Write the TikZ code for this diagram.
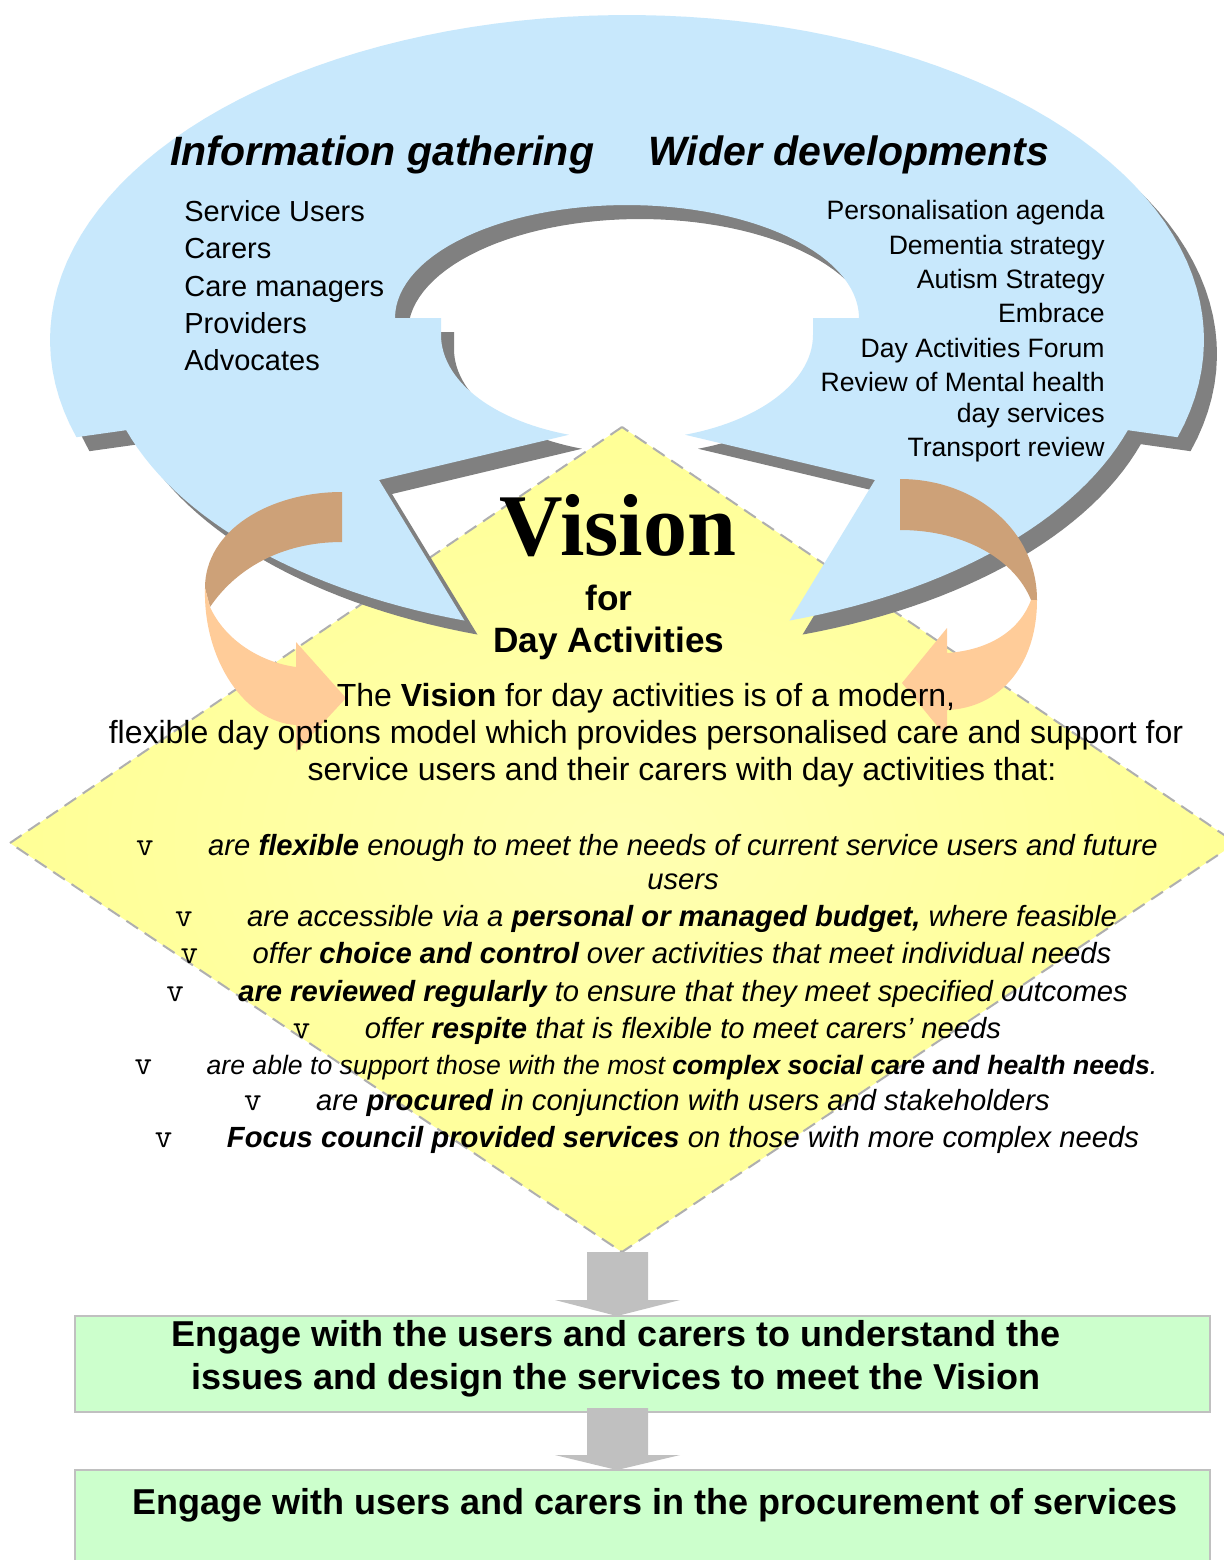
\documentclass[tikz,border=0pt]{standalone}
\usepackage{fontspec}
\setmainfont{Liberation Sans}
\newfontfamily\visionfont{Liberation Serif}
\newfontfamily\bulfont{Latin Modern Mono}
\definecolor{ringblue}{RGB}{200,232,252}
\definecolor{shadowgray}{RGB}{128,128,128}
\definecolor{arrowtan}{RGB}{205,161,120}
\definecolor{arrowpeach}{RGB}{255,204,153}
\definecolor{yelin}{RGB}{255,255,178}
\definecolor{yelout}{RGB}{255,255,150}
\definecolor{boxgreen}{RGB}{204,255,204}
\definecolor{silvergray}{RGB}{192,192,192}
\definecolor{dashgray}{RGB}{175,175,175}
\newcommand{\bulv}{\makebox[36pt][l]{\fontsize{17}{17}\bulfont\upshape v}}
\begin{document}
\begin{tikzpicture}[x=0.5pt,y=-0.5pt,
  hdr/.style={font=\fontsize{20.5}{24}\selectfont\bfseries\itshape, inner sep=0pt, anchor=base west},
  lefttxt/.style={font=\fontsize{14.5}{17}\selectfont, inner sep=0pt, anchor=base west},
  righttxt/.style={font=\fontsize{13.3}{16}\selectfont, inner sep=0pt, anchor=base east},
  partxt/.style={font=\fontsize{16}{19}\selectfont, inner sep=0pt, anchor=base},
  bultxt/.style={font=\fontsize{14.6}{17}\selectfont\itshape, inner sep=0pt, anchor=base},
  smallbultxt/.style={font=\fontsize{13.3}{16}\selectfont\itshape, inner sep=0pt, anchor=base},
  titletxt/.style={font=\fontsize{17.6}{20}\selectfont\bfseries, inner sep=0pt, anchor=base},
  boxtxt/.style={font=\fontsize{18}{21}\selectfont\bfseries, inner sep=0pt, anchor=base},
  greenbox/.style={fill=boxgreen, draw=silvergray, line width=1.3pt},
  blockarrow/.style={fill=silvergray},
  diamondedge/.style={draw=dashgray, line width=1pt, dash pattern=on 7pt off 4pt},
]
\useasboundingbox (0,0) rectangle (1224,1560);
\clip (0,0) rectangle (1224,1560);
\fill[white] (0,0) rectangle (1224,1560);

% ---------- yellow diamond ----------
\coordinate (dtop) at (622,427);
\coordinate (dleft) at (10,843);
\coordinate (dbot) at (622,1252);
\coordinate (dright) at (1236,843);
\shade[inner color=yelin, outer color=yelout] (dtop) -- (dleft) -- (dbot) -- (dright) -- cycle;
\path[diamondedge] (dtop) -- (dleft) -- (dbot) -- (dright) -- cycle;

% ---------- blue double circular arrow ----------
\def\ringpath{plot[domain=17.4:-197.4, samples=90, variable=\t] ({627+577*cos(\t)},{340+325*sin(\t)})
 -- plot[domain=162.2:108, samples=30, variable=\t] ({627+526*cos(\t)},{340+295*sin(\t)})
 -- (379,480)
 -- plot[domain=108.2:180, samples=30, variable=\t] ({627+186*cos(\t)},{335+105*sin(\t)})
 -- (441,318)
 -- plot[domain=180:360, samples=60, variable=\t] ({627+232*cos(\t)},{318+113*sin(\t)})
 -- (813,318)
 -- plot[domain=0:71.8, samples=30, variable=\t] ({627+186*cos(\t)},{335+105*sin(\t)})
 -- (875,480)
 -- plot[domain=72:17.8, samples=30, variable=\t] ({627+526*cos(\t)},{340+295*sin(\t)})
 -- cycle}
\begin{scope}[shift={(13,14)}]
\fill[shadowgray] \ringpath;
\end{scope}
\fill[ringblue] \ringpath;

% ---------- orange curved arrows ----------
\fill[arrowtan] (342,492) .. controls (270,492) and (205,530) .. (205,588)
  -- (210,607) .. controls (235,570) and (280,542) .. (342,542) -- cycle;
\fill[arrowpeach] (205,588) .. controls (203,660) and (245,722) .. (296,725)
  -- (296,752) -- (346,698) -- (296,642) -- (296,667)
  .. controls (260,662) and (225,640) .. (210,607) -- cycle;
\fill[arrowtan] (900,479) .. controls (975,479) and (1037,530) .. (1037,600)
  -- (1031,600) .. controls (1015,560) and (965,530) .. (900,530) -- cycle;
\fill[arrowpeach] (1037,600) .. controls (1037,665) and (1000,708) .. (947,710)
  -- (947,738) -- (902,683) -- (947,628) -- (947,653)
  .. controls (990,650) and (1020,630) .. (1031,600) -- cycle;

% ---------- green boxes and grey block arrows ----------
\draw[greenbox] (75,1316) rectangle (1210,1412);
\draw[greenbox] (75,1470) rectangle (1210,1590);
\fill[blockarrow] (587,1252) -- (648,1252) -- (648,1300) -- (680,1300) -- (617,1316) -- (555,1300) -- (587,1300) -- cycle;
\fill[blockarrow] (587,1408) -- (648,1408) -- (648,1455) -- (680,1455) -- (617,1470) -- (555,1455) -- (587,1455) -- cycle;

% ---------- texts in the ring ----------
\node[hdr] (infohdr) at (170,165) {Information gathering};
\node[hdr] (widerhdr) at (648,165) {Wider developments};

\node[lefttxt] (su) at (184,221) {Service Users};
\node[lefttxt] (ca) at (184,258) {Carers};
\node[lefttxt] (cm) at (184,296) {Care managers};
\node[lefttxt] (pr) at (184,333) {Providers};
\node[lefttxt] (ad) at (184,370) {Advocates};

\node[righttxt] (pa) at (1105,219) {Personalisation agenda};
\node[righttxt] (ds) at (1105,254) {Dementia strategy};
\node[righttxt] (as) at (1105,288) {Autism Strategy};
\node[righttxt] (em) at (1105,322) {Embrace};
\node[righttxt] (daf) at (1105,357) {Day Activities Forum};
\node[righttxt] (rmh) at (1105,391) {Review of Mental health};
\node[righttxt] (dsv) at (1105,422) {day services};
\node[righttxt] (tr) at (1105,456) {Transport review};

% ---------- vision text ----------
\node[font=\fontsize{44}{48}\visionfont\bfseries, inner sep=0pt, anchor=base] (vision) at (618,555) {Vision};
\node[titletxt] (for) at (609,610) {for};
\node[titletxt] (dayact) at (609,652) {Day Activities};

\node[partxt] (p1) at (646,706) {The \textbf{Vision} for day activities is of a modern,};
\node[partxt] (p2) at (646,743) {flexible day options model which provides personalised care and support for};
\node[partxt] (p3) at (682,780) {service users and their carers with day activities that:};

\node[bultxt] (b1) at (647,855) {\bulv are \textbf{flexible} enough to meet the needs of current service users and future};
\node[bultxt] (b1b) at (683,889) {users};
\node[bultxt] (b2) at (646,926) {\bulv are accessible via a \textbf{personal or managed budget,} where feasible};
\node[bultxt] (b3) at (646,963) {\bulv offer \textbf{choice and control} over activities that meet individual needs};
\node[bultxt] (b4) at (647,1001) {\bulv \textbf{are reviewed regularly} to ensure that they meet specified outcomes};
\node[bultxt] (b5) at (647,1038) {\bulv offer \textbf{respite} that is flexible to meet carers’ needs};
\node[smallbultxt] (b6) at (646,1074) {\bulv are able to support those with the most \textbf{complex social care and health needs}.};
\node[bultxt] (b7) at (647,1110) {\bulv are \textbf{procured} in conjunction with users and stakeholders};
\node[bultxt] (b8) at (647,1147) {\bulv \textbf{Focus council provided services} on those with more complex needs};

% ---------- box texts ----------
\node[boxtxt] (e1) at (616,1346) {Engage with the users and carers to understand the};
\node[boxtxt] (e2) at (616,1389) {issues and design the services to meet the Vision};
\node[boxtxt] (e3) at (655,1514) {Engage with users and carers in the procurement of services};
\end{tikzpicture}
\end{document}
